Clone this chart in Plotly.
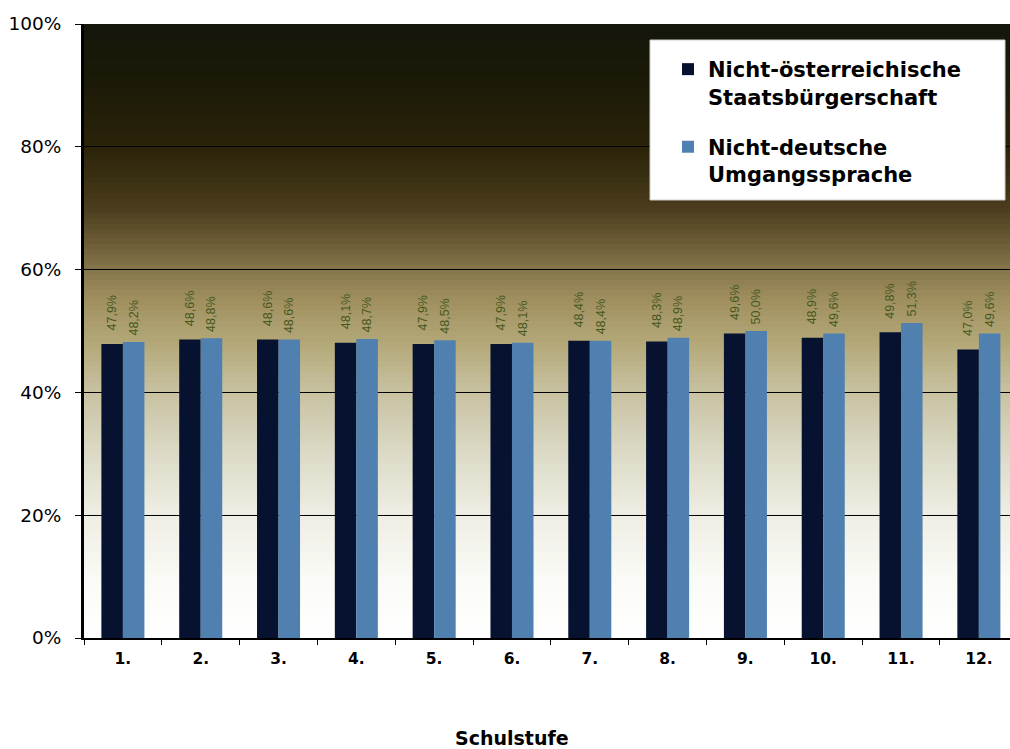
import plotly.graph_objects as go

categories = ["1.", "2.", "3.", "4.", "5.", "6.", "7.", "8.", "9.", "10.", "11.", "12."]
staatsbuerger = [47.9, 48.6, 48.6, 48.1, 47.9, 47.9, 48.4, 48.3, 49.6, 48.9, 49.8, 47.0]
umgangssprache = [48.2, 48.8, 48.6, 48.7, 48.5, 48.1, 48.4, 48.9, 50.0, 49.6, 51.3, 49.6]
y_ticks = [0, 20, 40, 60, 80, 100]
y_tick_labels = ["0%", "20%", "40%", "60%", "80%", "100%"]
x_title = "Schulstufe"


def fmt(v, pad=""):
    return pad + f"{v:.1f}%".replace(".", ",")


label_font = dict(family="Arial", size=12.5, color="#46581e")

fig = go.Figure()
fig.add_trace(go.Bar(
    x=categories, y=staatsbuerger, name="Nicht-österreichische<br>Staatsbürgerschaft",
    legendgroup="a",
    marker=dict(color="#061230", line=dict(width=0)),
    text=[fmt(v, "\u00a0\u00a0\u00a0") for v in staatsbuerger], textposition="outside", textangle=-90,
    textfont=label_font, cliponaxis=False, constraintext="none",
))
fig.add_trace(go.Bar(
    x=categories, y=umgangssprache, name="Nicht-deutsche<br>Umgangssprache",
    legendgroup="b",
    marker=dict(color="#4f80b0", line=dict(width=0)),
    text=[fmt(v, "\u00a0") for v in umgangssprache], textposition="outside", textangle=-90,
    textfont=label_font, cliponaxis=False, constraintext="none",
))

# background gradient (style only)
stops = [(0, (255, 255, 255)), (10, (250, 250, 246)), (20, (238, 238, 228)),
         (30, (220, 218, 198)), (40, (200, 194, 162)), (48, (180, 168, 120)),
         (55, (160, 144, 96)), (62, (122, 106, 66)), (70, (74, 60, 28)),
         (80, (42, 35, 9)), (90, (28, 26, 8)), (100, (20, 22, 10))]


def col_at(v):
    for (a, ca), (b, cb) in zip(stops[:-1], stops[1:]):
        if a <= v <= b:
            t = (v - a) / (b - a)
            c = [round(ca[i] + (cb[i] - ca[i]) * t) for i in range(3)]
            return f"rgb({c[0]},{c[1]},{c[2]})"
    return "white"


shapes = []
n = 120
for i in range(n):
    y0 = 100 * i / n
    y1 = 100 * (i + 1) / n
    shapes.append(dict(type="rect", xref="paper", yref="y", x0=0, x1=1, y0=y0, y1=100,
                       fillcolor=col_at((y0 + y1) / 2), line=dict(width=0), layer="below"))

# legend box
shapes.append(dict(type="rect", xref="paper", yref="paper",
                   x0=(650 - 84) / 926, x1=(1005 - 84) / 926,
                   y0=1 - (200 - 24) / 614, y1=1 - (40 - 24) / 614,
                   fillcolor="white", line=dict(color="#cccccc", width=1), layer="above"))

fig.update_layout(
    width=1010, height=749,
    margin=dict(l=84, r=0, t=24, b=111),
    paper_bgcolor="white", plot_bgcolor="white",
    barmode="group", bargap=0.447, bargroupgap=0,
    shapes=shapes,
    font=dict(family="DejaVu Sans", color="black"),
    xaxis=dict(
        range=[-0.5, 11.4], showgrid=False, showline=True, linecolor="black", linewidth=1.5,
        ticks="outside", tickson="boundaries", ticklen=5, tickcolor="black",
        tickfont=dict(family="DejaVu Sans", size=15.5, color="black", weight="bold"),
        ticklabelstandoff=6,
    ),
    yaxis=dict(
        range=[0, 100], tickvals=y_ticks, ticktext=y_tick_labels,
        showgrid=True, gridcolor="black", gridwidth=1,
        showline=True, linecolor="black", linewidth=3,
        ticks="outside", ticklen=6, tickcolor="black",
        tickfont=dict(family="DejaVu Sans", size=18.5, color="black"),
        ticklabelstandoff=10,
        zeroline=False,
    ),
    legend=dict(
        x=(668 - 84) / 926, y=1 - (49 - 24) / 614, xanchor="left", yanchor="top",
        bgcolor="rgba(0,0,0,0)", borderwidth=0,
        font=dict(family="DejaVu Sans", size=21, color="black", weight="bold"),
        tracegroupgap=20, itemwidth=30, valign="top", traceorder="grouped",
    ),
    annotations=[dict(
        text=f"<b>{x_title}</b>", xref="paper", yref="paper",
        x=(512 - 84) / 926, y=-(738 - 638) / 614, xanchor="center", yanchor="middle",
        showarrow=False, font=dict(family="DejaVu Sans", size=19, color="black"),
    )],
)

fig.write_html("out.html", post_script="document.body.style.margin='0';",
               config={"displayModeBar": False})
